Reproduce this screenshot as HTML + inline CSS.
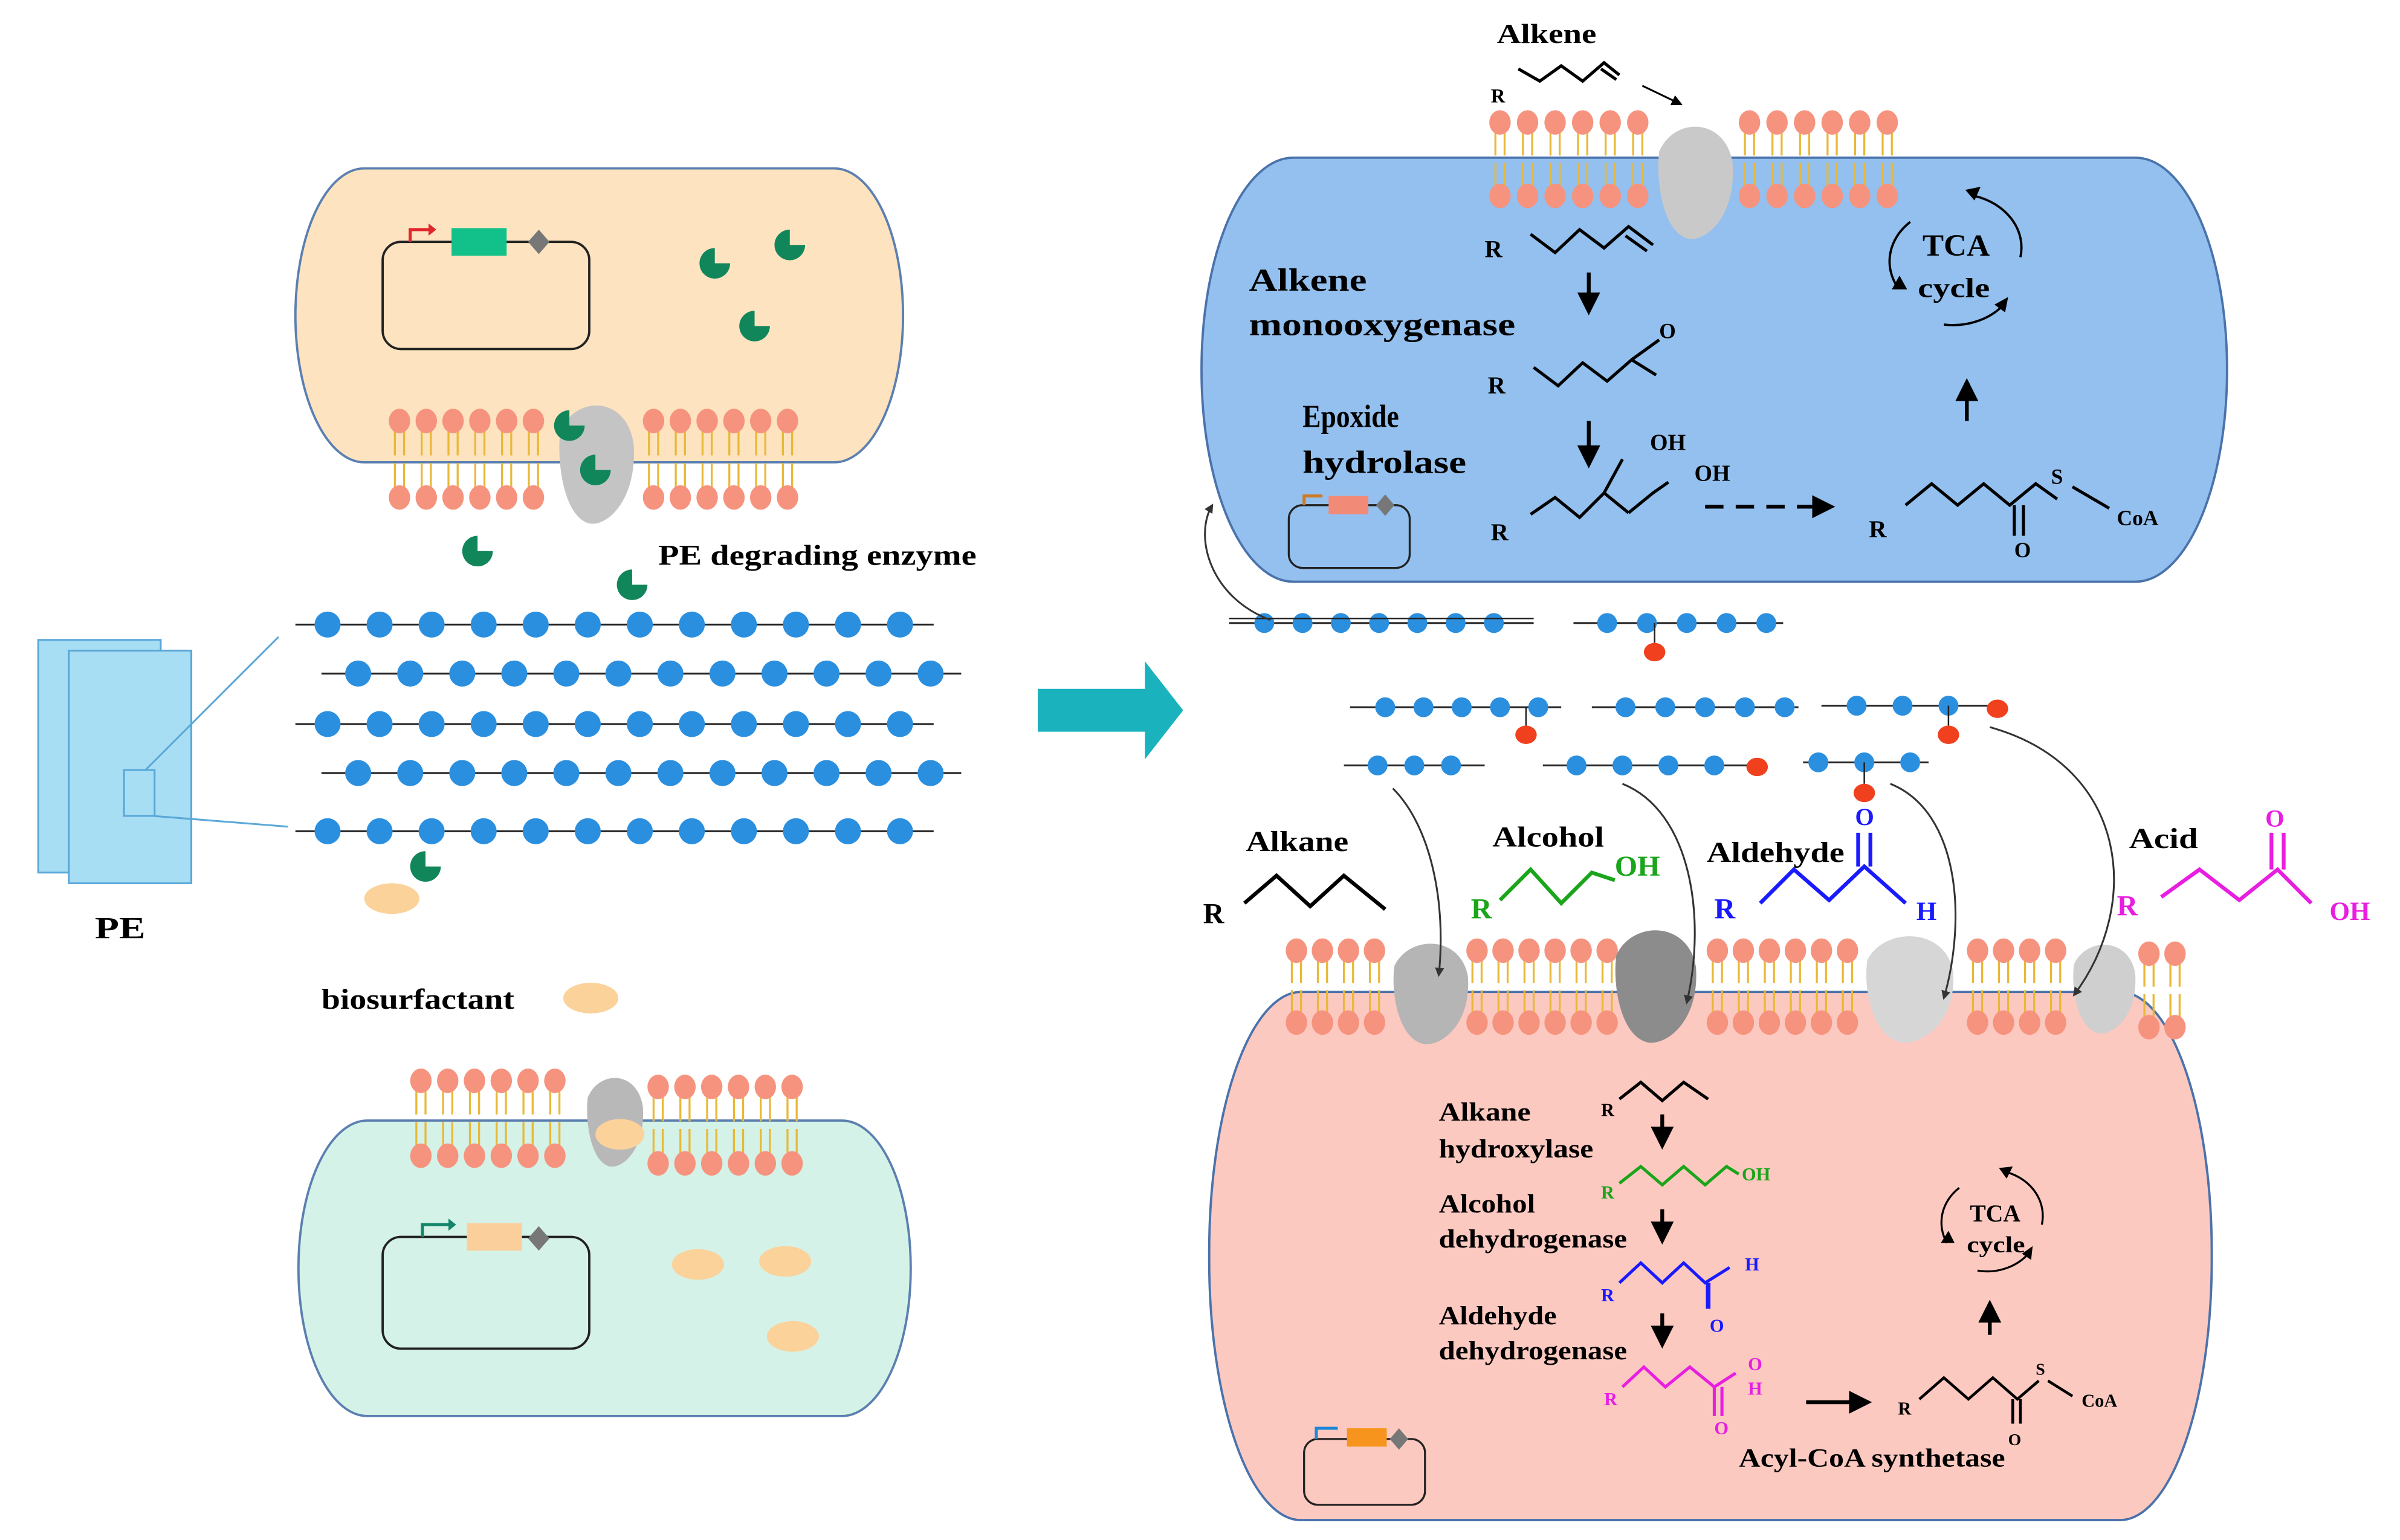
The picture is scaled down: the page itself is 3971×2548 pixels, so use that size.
<!DOCTYPE html>
<html><head><meta charset="utf-8">
<style>
html,body{margin:0;padding:0;background:#fff;}
svg{display:block;}
text{font-family:"Liberation Serif",serif;font-weight:bold;}
</style></head>
<body>
<svg id="s" xmlns="http://www.w3.org/2000/svg" width="3971" height="2548" viewBox="0 0 1568 1006" preserveAspectRatio="none">
<defs>
<marker id="ah" viewBox="0 0 10 10" refX="8" refY="5" markerWidth="6" markerHeight="6" orient="auto"><path d="M0,0L10,5L0,10z" fill="#000"/></marker>
<marker id="ahs" viewBox="0 0 10 10" refX="8" refY="5" markerWidth="5" markerHeight="5" orient="auto"><path d="M0,0L10,5L0,10z" fill="#333"/></marker>
</defs>
<rect width="1568" height="1006" fill="#fff"/>

<rect x="193" y="110" width="397" height="192" rx="45" ry="96" fill="#fde3bf" stroke="#5b7fb0" stroke-width="1.5"/>
<rect x="195" y="732" width="400" height="193" rx="45" ry="96" fill="#d5f2e8" stroke="#5b7fb0" stroke-width="1.5"/>
<rect x="785" y="103" width="670" height="277" rx="60" ry="138" fill="#93c0ee" stroke="#4a72ab" stroke-width="1.5"/>
<rect x="790" y="648" width="655" height="345" rx="60" ry="170" fill="#fcc9c0" stroke="#4a72ab" stroke-width="1.5"/>

<rect x="250" y="158" width="135" height="70" rx="12" fill="none" stroke="#222" stroke-width="1.5"/>
<path d="M268,158 v-8 h14" fill="none" stroke="#e0262c" stroke-width="2"/><path d="M280,146 l5,4 l-5,4z" fill="#e0262c"/>
<rect x="295" y="149" width="36" height="18" fill="#12c08a"/>
<path d="M352,150 l7,8 l-7,8 l-7,-8z" fill="#777"/>

<rect x="250" y="808" width="135" height="73" rx="12" fill="none" stroke="#222" stroke-width="1.5"/>
<path d="M276,808 v-8 h18" fill="none" stroke="#13866a" stroke-width="2"/><path d="M293,796 l5,4 l-5,4z" fill="#13866a"/>
<rect x="305" y="799" width="36" height="18" fill="#fbcf9c"/>
<path d="M352,801 l7,8 l-7,8 l-7,-8z" fill="#777"/>

<rect x="842" y="330" width="79" height="41" rx="9" fill="none" stroke="#222" stroke-width="1.3"/>
<path d="M852,330 v-6 h12" fill="none" stroke="#d07a22" stroke-width="2"/>
<rect x="868" y="324" width="26" height="12" fill="#f28a78"/>
<path d="M905,323 l6,7 l-6,7 l-6,-7z" fill="#777"/>

<rect x="852" y="940" width="79" height="43" rx="9" fill="none" stroke="#222" stroke-width="1.3"/>
<path d="M860,940 v-7 h14" fill="none" stroke="#1e88d8" stroke-width="2"/>
<rect x="880" y="933" width="26" height="12" fill="#f7941d"/>
<path d="M914,933 l6,7 l-6,7 l-6,-7z" fill="#777"/>

<g id="dyn"></g>

<rect x="25" y="418" width="80" height="152" fill="#a8def4" stroke="#5aa8d8" stroke-width="1.2"/>
<rect x="45" y="425" width="80" height="152" fill="#a8def4" stroke="#5aa8d8" stroke-width="1.2"/>
<rect x="81" y="503" width="20" height="30" fill="none" stroke="#5aa8d8" stroke-width="1.2"/>
<line x1="95" y1="503" x2="182" y2="416" stroke="#5aa8d8" stroke-width="1.2"/>
<line x1="100" y1="533" x2="188" y2="540" stroke="#5aa8d8" stroke-width="1.2"/>
<text x="62" y="613" font-size="20" textLength="33" lengthAdjust="spacingAndGlyphs">PE</text>

<path d="M678,450 H748 V432 L773,464 L748,496 V478 H678z" fill="#1ab2bd"/>

<g fill="#fbd29a">
<ellipse cx="256" cy="587" rx="18" ry="10"/>
<ellipse cx="386" cy="652" rx="18" ry="10"/>
<ellipse cx="456" cy="826" rx="17" ry="10"/>
<ellipse cx="513" cy="824" rx="17" ry="10"/>
<ellipse cx="518" cy="873" rx="17" ry="10"/>
</g>
<text x="210" y="659" font-size="19" textLength="126" lengthAdjust="spacingAndGlyphs">biosurfactant</text>
<text x="430" y="369" font-size="19" textLength="208" lengthAdjust="spacingAndGlyphs">PE degrading enzyme</text>

<text x="978" y="28" font-size="18" textLength="65" lengthAdjust="spacingAndGlyphs">Alkene</text>
<text x="974" y="67" font-size="13">R</text>
<polyline points="992,45 1006,53 1020,43 1034,53 1048,41 1058,49" fill="none" stroke="#000" stroke-width="2"/>
<line x1="1046" y1="45" x2="1056" y2="52" stroke="#000" stroke-width="2"/>
<line x1="1073" y1="56" x2="1098" y2="68" stroke="#000" stroke-width="1.2" marker-end="url(#ah)"/>

<text x="970" y="168" font-size="16">R</text>
<polyline points="1000,153 1016,165 1032,150 1048,162 1064,148 1080,160" fill="none" stroke="#000" stroke-width="2"/>
<line x1="1062" y1="154" x2="1076" y2="164" stroke="#000" stroke-width="2"/>
<line x1="1038" y1="178" x2="1038" y2="203" stroke="#000" stroke-width="2.5" marker-end="url(#ah)"/>
<text x="816" y="190" font-size="21" textLength="77" lengthAdjust="spacingAndGlyphs">Alkene</text>
<text x="816" y="219" font-size="21" textLength="174" lengthAdjust="spacingAndGlyphs">monooxygenase</text>
<text x="972" y="257" font-size="16">R</text>
<polyline points="1002,240 1018,252 1034,237 1050,249 1066,235 1082,245" fill="none" stroke="#000" stroke-width="2"/>
<line x1="1066" y1="235" x2="1084" y2="222" stroke="#000" stroke-width="2"/>
<text x="1084" y="221" font-size="14">O</text>
<line x1="1038" y1="275" x2="1038" y2="303" stroke="#000" stroke-width="2.5" marker-end="url(#ah)"/>
<text x="851" y="279" font-size="21" textLength="63" lengthAdjust="spacingAndGlyphs">Epoxide</text>
<text x="851" y="309" font-size="21" textLength="107" lengthAdjust="spacingAndGlyphs">hydrolase</text>
<text x="974" y="353" font-size="16">R</text>
<polyline points="1000,336 1016,325 1032,338 1048,322 1064,335" fill="none" stroke="#000" stroke-width="2"/>
<polyline points="1048,322 1060,300" fill="none" stroke="#000" stroke-width="2"/>
<polyline points="1064,335 1080,322 1090,315" fill="none" stroke="#000" stroke-width="2"/>
<text x="1078" y="294" font-size="15">OH</text>
<text x="1107" y="314" font-size="15">OH</text>
<line x1="1114" y1="331" x2="1196" y2="331" stroke="#000" stroke-width="2.5" stroke-dasharray="12,8" marker-end="url(#ah)"/>
<text x="1221" y="351" font-size="16">R</text>
<polyline points="1245,330 1262,316 1279,330 1296,316 1313,330 1330,316 1344,326" fill="none" stroke="#000" stroke-width="2"/>
<line x1="1316" y1="330" x2="1316" y2="350" stroke="#000" stroke-width="2"/><line x1="1322" y1="330" x2="1322" y2="350" stroke="#000" stroke-width="2"/>
<text x="1316" y="364" font-size="14">O</text>
<text x="1340" y="316" font-size="14">S</text>
<line x1="1354" y1="318" x2="1378" y2="332" stroke="#000" stroke-width="2"/>
<text x="1383" y="343" font-size="14">CoA</text>
<line x1="1285" y1="275" x2="1285" y2="250" stroke="#000" stroke-width="2.5" marker-end="url(#ah)"/>
<text x="1256" y="167" font-size="20" textLength="44" lengthAdjust="spacingAndGlyphs">TCA</text>
<text x="1253" y="194" font-size="18" textLength="47" lengthAdjust="spacingAndGlyphs">cycle</text>
<path d="M1290,128 A42,35 0 0 1 1320,168" fill="none" stroke="#000" stroke-width="1.5"/><path d="M1284,124 l10,-2 l-4,9z" fill="#000"/>
<path d="M1310,198 A42,35 0 0 1 1270,212" fill="none" stroke="#000" stroke-width="1.5"/><path d="M1312,194 l-2,10 l-7,-5z" fill="#000"/>
<path d="M1240,188 A42,35 0 0 1 1248,145" fill="none" stroke="#000" stroke-width="1.5"/><path d="M1236,189 l10,0 l-5,-9z" fill="#000"/>

<path d="M830,405 C790,390 780,350 792,330" fill="none" stroke="#333" stroke-width="1.2" marker-end="url(#ahs)"/>
<path d="M910,515 C935,540 945,590 940,637" fill="none" stroke="#333" stroke-width="1.2" marker-end="url(#ahs)"/>
<path d="M1060,512 C1105,530 1115,600 1102,655" fill="none" stroke="#333" stroke-width="1.2" marker-end="url(#ahs)"/>
<path d="M1235,512 C1280,530 1285,600 1270,652" fill="none" stroke="#333" stroke-width="1.2" marker-end="url(#ahs)"/>
<path d="M1300,475 C1390,500 1400,590 1355,650" fill="none" stroke="#333" stroke-width="1.2" marker-end="url(#ahs)"/>

<text x="814" y="556" font-size="19" textLength="67" lengthAdjust="spacingAndGlyphs">Alkane</text>
<text x="786" y="603" font-size="19">R</text>
<polyline points="813,590 834,572 856,592 878,572 905,594" fill="none" stroke="#000" stroke-width="2.5"/>
<text x="975" y="553" font-size="19" textLength="73" lengthAdjust="spacingAndGlyphs">Alcohol</text>
<text x="961" y="600" font-size="19" fill="#1aa51a">R</text>
<polyline points="980,588 1000,568 1020,590 1040,570 1055,575" fill="none" stroke="#1aa51a" stroke-width="2.5"/>
<text x="1055" y="572" font-size="19" fill="#1aa51a">OH</text>
<text x="1115" y="563" font-size="19" textLength="90" lengthAdjust="spacingAndGlyphs">Aldehyde</text>
<text x="1120" y="600" font-size="19" fill="#1a1aff">R</text>
<polyline points="1150,590 1172,568 1195,588 1218,566 1245,590" fill="none" stroke="#1a1aff" stroke-width="2.5"/>
<line x1="1214" y1="566" x2="1214" y2="544" stroke="#1a1aff" stroke-width="2.5"/><line x1="1222" y1="566" x2="1222" y2="544" stroke="#1a1aff" stroke-width="2.5"/>
<text x="1212" y="539" font-size="16" fill="#1a1aff">O</text>
<text x="1252" y="601" font-size="17" fill="#1a1aff">H</text>
<text x="1391" y="554" font-size="19" textLength="45" lengthAdjust="spacingAndGlyphs">Acid</text>
<text x="1383" y="598" font-size="19" fill="#e81ee0">R</text>
<polyline points="1412,586 1437,568 1463,588 1488,568 1510,590" fill="none" stroke="#e81ee0" stroke-width="2.5"/>
<line x1="1484" y1="568" x2="1484" y2="544" stroke="#e81ee0" stroke-width="2.5"/><line x1="1492" y1="568" x2="1492" y2="544" stroke="#e81ee0" stroke-width="2.5"/>
<text x="1480" y="540" font-size="16" fill="#e81ee0">O</text>
<text x="1522" y="601" font-size="17" fill="#e81ee0">OH</text>

<text x="940" y="732" font-size="17" textLength="60" lengthAdjust="spacingAndGlyphs">Alkane</text>
<text x="940" y="756" font-size="17" textLength="101" lengthAdjust="spacingAndGlyphs">hydroxylase</text>
<text x="1046" y="729" font-size="12">R</text>
<polyline points="1058,718 1072,707 1086,719 1100,707 1116,718" fill="none" stroke="#000" stroke-width="2"/>
<line x1="1086" y1="728" x2="1086" y2="748" stroke="#000" stroke-width="2.5" marker-end="url(#ah)"/>
<text x="940" y="792" font-size="17" textLength="63" lengthAdjust="spacingAndGlyphs">Alcohol</text>
<text x="940" y="815" font-size="17" textLength="123" lengthAdjust="spacingAndGlyphs">dehydrogenase</text>
<text x="1046" y="783" font-size="12" fill="#1aa51a">R</text>
<polyline points="1058,773 1072,762 1086,774 1100,762 1114,774 1128,762 1136,767" fill="none" stroke="#1aa51a" stroke-width="2"/>
<text x="1138" y="771" font-size="12" fill="#1aa51a">OH</text>
<line x1="1086" y1="790" x2="1086" y2="810" stroke="#000" stroke-width="2.5" marker-end="url(#ah)"/>
<text x="940" y="865" font-size="17" textLength="77" lengthAdjust="spacingAndGlyphs">Aldehyde</text>
<text x="940" y="888" font-size="17" textLength="123" lengthAdjust="spacingAndGlyphs">dehydrogenase</text>
<text x="1046" y="850" font-size="12" fill="#1a1aff">R</text>
<polyline points="1058,838 1072,825 1086,838 1100,825 1114,838 1130,828" fill="none" stroke="#1a1aff" stroke-width="2"/>
<line x1="1116" y1="838" x2="1116" y2="855" stroke="#1a1aff" stroke-width="3"/>
<text x="1117" y="870" font-size="12" fill="#1a1aff">O</text>
<text x="1140" y="830" font-size="12" fill="#1a1aff">H</text>
<line x1="1086" y1="858" x2="1086" y2="878" stroke="#000" stroke-width="2.5" marker-end="url(#ah)"/>
<text x="1048" y="918" font-size="12" fill="#e81ee0">R</text>
<polyline points="1060,906 1074,893 1088,906 1104,893 1120,906 1134,897" fill="none" stroke="#e81ee0" stroke-width="2"/>
<line x1="1120" y1="906" x2="1120" y2="925" stroke="#e81ee0" stroke-width="2"/><line x1="1125" y1="906" x2="1125" y2="925" stroke="#e81ee0" stroke-width="2"/>
<text x="1120" y="937" font-size="12" fill="#e81ee0">O</text>
<text x="1142" y="895" font-size="12" fill="#e81ee0">O</text>
<text x="1142" y="911" font-size="12" fill="#e81ee0">H</text>
<line x1="1180" y1="916" x2="1220" y2="916" stroke="#000" stroke-width="2.5" marker-end="url(#ah)"/>
<text x="1240" y="924" font-size="12">R</text>
<polyline points="1254,914 1270,900 1286,914 1302,900 1318,914 1332,902" fill="none" stroke="#000" stroke-width="1.8"/>
<line x1="1315" y1="914" x2="1315" y2="930" stroke="#000" stroke-width="1.8"/><line x1="1320" y1="914" x2="1320" y2="930" stroke="#000" stroke-width="1.8"/>
<text x="1312" y="944" font-size="11">O</text>
<text x="1330" y="898" font-size="11">S</text>
<line x1="1338" y1="902" x2="1354" y2="912" stroke="#000" stroke-width="1.8"/>
<text x="1360" y="919" font-size="12">CoA</text>
<text x="1136" y="958" font-size="17" textLength="174" lengthAdjust="spacingAndGlyphs">Acyl-CoA synthetase</text>
<line x1="1300" y1="872" x2="1300" y2="852" stroke="#000" stroke-width="2.5" marker-end="url(#ah)"/>
<text x="1287" y="798" font-size="16" textLength="33" lengthAdjust="spacingAndGlyphs">TCA</text>
<text x="1285" y="818" font-size="15" textLength="38" lengthAdjust="spacingAndGlyphs">cycle</text>
<path d="M1312,766 A34,30 0 0 1 1334,800" fill="none" stroke="#000" stroke-width="1.3"/><path d="M1306,763 l9,-1 l-4,8z" fill="#000"/>
<path d="M1326,818 A34,30 0 0 1 1292,830" fill="none" stroke="#000" stroke-width="1.3"/><path d="M1328,814 l-1,9 l-6,-4z" fill="#000"/>
<path d="M1272,812 A34,30 0 0 1 1280,776" fill="none" stroke="#000" stroke-width="1.3"/><path d="M1268,812 l9,0 l-4,-8z" fill="#000"/>
</svg>
<script>
(function(){
var NS="http://www.w3.org/2000/svg",g=document.getElementById("dyn");
function el(t,a){var e=document.createElementNS(NS,t);for(var k in a)e.setAttribute(k,a[k]);g.appendChild(e);return e;}
function lipid(x,yt,yb){
 var tl=(yb-yt);
 el("line",{x1:x-3,y1:yt+6,x2:x-3,y2:yt+tl*0.45,stroke:"#e9b838","stroke-width":1.3});
 el("line",{x1:x+3,y1:yt+6,x2:x+3,y2:yt+tl*0.45,stroke:"#e9b838","stroke-width":1.3});
 el("line",{x1:x-3,y1:yb-6,x2:x-3,y2:yb-tl*0.45,stroke:"#e9b838","stroke-width":1.3});
 el("line",{x1:x+3,y1:yb-6,x2:x+3,y2:yb-tl*0.45,stroke:"#e9b838","stroke-width":1.3});
 el("ellipse",{cx:x,cy:yt,rx:7,ry:8,fill:"#f6937e"});
 el("ellipse",{cx:x,cy:yb,rx:7,ry:8,fill:"#f6937e"});
}
function group(x0,n,sp,yt,yb){for(var i=0;i<n;i++)lipid(x0+i*sp,yt,yb);}
function blob(cx,cy,rx,ry,c){el("path",{d:"M"+(cx-rx)+","+(cy-ry*0.5)+" C"+(cx-rx*0.6)+","+(cy-ry*1.1)+" "+(cx+rx*0.8)+","+(cy-ry*1.1)+" "+(cx+rx)+","+(cy-ry*0.3)+" C"+(cx+rx*1.1)+","+(cy+ry*0.6)+" "+(cx+rx*0.3)+","+(cy+ry*1.05)+" "+(cx-rx*0.2)+","+(cy+ry)+" C"+(cx-rx*0.9)+","+(cy+ry*0.9)+" "+(cx-rx*1.1)+","+(cy)+" "+(cx-rx)+","+(cy-ry*0.5)+"z",fill:c});}
group(261,6,17.5,275,325); group(427,6,17.5,275,325);
blob(390,302,24,40,"#c4c4c4");
group(275,6,17.5,706,755); group(430,6,17.5,710,760);
blob(402,732,18,30,"#b8b8b8");
el("ellipse",{cx:405,cy:741,rx:16,ry:10,fill:"#fbd29a"});
group(980,6,18,80,128); group(1143,6,18,80,128);
blob(1108,118,24,38,"#c9c9c9");
group(847,4,17,621,668); group(965,6,17,621,668); group(1122,6,17,621,668); group(1292,4,17,621,668); group(1404,2,17,623,671);
blob(935,648,24,34,"#b5b5b5"); blob(1082,643,26,38,"#8c8c8c"); blob(1248,645,28,36,"#d6d6d6"); blob(1375,645,20,30,"#cfcfcf");
function pac(x,y,r,rot){var a=rot*Math.PI/180;var x1=x+r*Math.cos(a),y1=y+r*Math.sin(a),x2=x+r*Math.cos(a+Math.PI/2),y2=y+r*Math.sin(a+Math.PI/2);
 el("path",{d:"M"+x+","+y+" L"+x2+","+y2+" A"+r+","+r+" 0 1 1 "+x1+","+y1+"z",fill:"#11865a"});}
[[467,172,-90],[516,160,-90],[493,213,-90],[372,278,-90],[389,307,-90],[312,360,-90],[413,382,-90],[278,566,-90]].forEach(function(p){pac(p[0],p[1],10,p[2]);});
function chain(x1,x2,y,xs,r){el("line",{x1:x1,y1:y,x2:x2,y2:y,stroke:"#222","stroke-width":1.2});xs.forEach(function(x){el("circle",{cx:x,cy:y,r:r,fill:"#2b8fe0"});});}
function rng(a,n,s){var o=[];for(var i=0;i<n;i++)o.push(a+i*s);return o;}
chain(193,610,408,rng(214,12,34),8.5);
chain(210,628,440,rng(234,12,34),8.5);
chain(193,610,473,rng(214,12,34),8.5);
chain(210,628,505,rng(234,12,34),8.5);
chain(193,610,543,rng(214,12,34),8.5);
chain(803,1002,407,rng(826,7,25),6.5);
el("line",{x1:803,y1:404,x2:1002,y2:404,stroke:"#222","stroke-width":1});
chain(1028,1165,407,rng(1050,5,26),6.5); el("line",{x1:1081,y1:407,x2:1081,y2:420,stroke:"#222"}); el("ellipse",{cx:1081,cy:426,rx:7,ry:6,fill:"#f0401e"});
chain(882,1020,462,rng(905,5,25),6.5); el("line",{x1:997,y1:462,x2:997,y2:474,stroke:"#222"}); el("ellipse",{cx:997,cy:480,rx:7,ry:6,fill:"#f0401e"});
chain(1040,1175,462,rng(1062,5,26),6.5);
chain(1190,1300,461,rng(1213,3,30),6.5); el("line",{x1:1273,y1:461,x2:1273,y2:474,stroke:"#222"}); el("ellipse",{cx:1273,cy:480,rx:7,ry:6,fill:"#f0401e"}); el("ellipse",{cx:1305,cy:463,rx:7,ry:6,fill:"#f0401e"});
chain(878,970,500,rng(900,3,24),6.5);
chain(1008,1150,500,rng(1030,4,30),6.5); el("ellipse",{cx:1148,cy:501,rx:7,ry:6,fill:"#f0401e"});
chain(1178,1260,498,rng(1188,3,30),6.5); el("line",{x1:1218,y1:498,x2:1218,y2:512,stroke:"#222"}); el("ellipse",{cx:1218,cy:518,rx:7,ry:6,fill:"#f0401e"});
})();
</script>
</body></html>
